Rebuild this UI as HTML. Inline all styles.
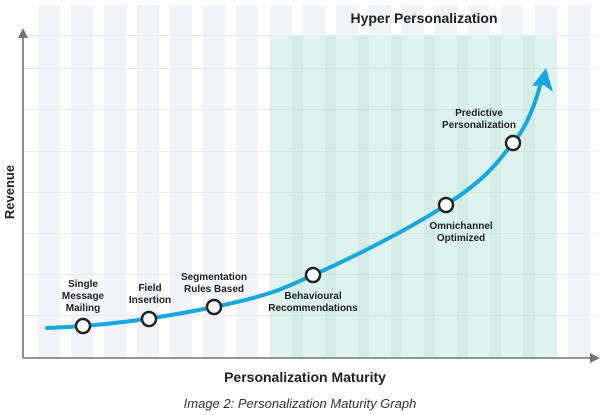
<!DOCTYPE html>
<html><head><style>body{margin:0;background:#fff}svg{display:block}</style></head><body>
<svg width="600" height="415" viewBox="0 0 600 415" xmlns="http://www.w3.org/2000/svg" font-family="'Liberation Sans',sans-serif">
<g fill="#f0f3f7">
<rect x="38" y="5" width="22" height="353"/><rect x="71" y="5" width="22" height="353"/><rect x="104" y="5" width="22" height="353"/><rect x="137" y="5" width="22" height="353"/><rect x="170" y="5" width="22" height="353"/><rect x="203" y="5" width="22" height="353"/><rect x="236" y="5" width="22" height="353"/><rect x="270" y="5" width="22" height="353"/><rect x="303" y="5" width="22" height="353"/><rect x="336" y="5" width="22" height="353"/><rect x="369" y="5" width="22" height="353"/><rect x="402" y="5" width="22" height="353"/><rect x="435" y="5" width="22" height="353"/><rect x="468" y="5" width="22" height="353"/><rect x="501" y="5" width="22" height="353"/><rect x="535" y="5" width="22" height="353"/><rect x="568" y="5" width="22" height="353"/>
</g>
<g stroke="#e8ebef" stroke-width="1">
<line x1="24" y1="35.5" x2="598" y2="35.5"/><line x1="24" y1="68.5" x2="598" y2="68.5"/><line x1="24" y1="109.5" x2="598" y2="109.5"/><line x1="24" y1="151.5" x2="598" y2="151.5"/><line x1="24" y1="192.5" x2="598" y2="192.5"/><line x1="24" y1="233.5" x2="598" y2="233.5"/><line x1="24" y1="274.5" x2="598" y2="274.5"/><line x1="24" y1="315.5" x2="598" y2="315.5"/>
</g>
<rect x="270" y="35" width="287" height="323" fill="#d3ece6"/>
<g fill="#def3ee">
<rect x="270" y="35" width="22" height="323"/><rect x="303" y="35" width="22" height="323"/><rect x="336" y="35" width="22" height="323"/><rect x="369" y="35" width="22" height="323"/><rect x="402" y="35" width="22" height="323"/><rect x="435" y="35" width="22" height="323"/><rect x="468" y="35" width="22" height="323"/><rect x="501" y="35" width="22" height="323"/><rect x="535" y="35" width="22" height="323"/>
</g>
<g stroke="#cfe6e0" stroke-width="1">
<line x1="270" y1="68.5" x2="557" y2="68.5"/><line x1="270" y1="109.5" x2="557" y2="109.5"/><line x1="270" y1="151.5" x2="557" y2="151.5"/><line x1="270" y1="192.5" x2="557" y2="192.5"/><line x1="270" y1="233.5" x2="557" y2="233.5"/><line x1="270" y1="274.5" x2="557" y2="274.5"/><line x1="270" y1="315.5" x2="557" y2="315.5"/>
</g>
<g stroke="#707378" stroke-width="1.6" fill="none">
<line x1="23" y1="358" x2="23" y2="34"/><line x1="23" y1="358" x2="594" y2="358"/>
</g>
<polygon points="23,28 18,38 28,38" fill="#707378"/>
<polygon points="600,358 590,353 590,363" fill="#707378"/>
<path d="M47,328 C100,326 150,320 214,307 S290,285 313,275 S400,235 446,205 S500,158 513,143 S535,105 541,82" fill="none" stroke="#15a7e0" stroke-width="4" stroke-linecap="round"/>
<polygon points="546,68 553,92 544,85 532,86" fill="#15a7e0"/>
<g fill="#fff" stroke="#222" stroke-width="2.5">
<circle cx="83" cy="326" r="7"/><circle cx="149" cy="319" r="7"/><circle cx="214" cy="307" r="7"/><circle cx="313" cy="275" r="7"/><circle cx="446" cy="205" r="7"/><circle cx="513" cy="143" r="7"/>
</g>
<g font-size="10" font-weight="bold" fill="#222" text-anchor="middle">
<text x="83" y="287">Single</text><text x="83" y="299">Message</text><text x="83" y="311">Mailing</text>
<text x="150" y="291">Field</text><text x="150" y="303">Insertion</text>
<text x="214" y="280">Segmentation</text><text x="214" y="292">Rules Based</text>
<text x="313" y="299">Behavioural</text><text x="313" y="311">Recommendations</text>
<text x="461" y="229">Omnichannel</text><text x="461" y="241">Optimized</text>
<text x="479" y="116">Predictive</text><text x="479" y="128">Personalization</text>
</g>
<text x="424" y="23" font-size="14" font-weight="bold" fill="#222" text-anchor="middle">Hyper Personalization</text>
<text x="305" y="382" font-size="14" font-weight="bold" fill="#222" text-anchor="middle">Personalization Maturity</text>
<text transform="translate(14,192) rotate(-90)" font-size="13" font-weight="bold" fill="#222" text-anchor="middle">Revenue</text>
<text x="300" y="408" font-size="13" font-style="italic" fill="#333" text-anchor="middle">Image 2: Personalization Maturity Graph</text>
</svg>
</body></html>
